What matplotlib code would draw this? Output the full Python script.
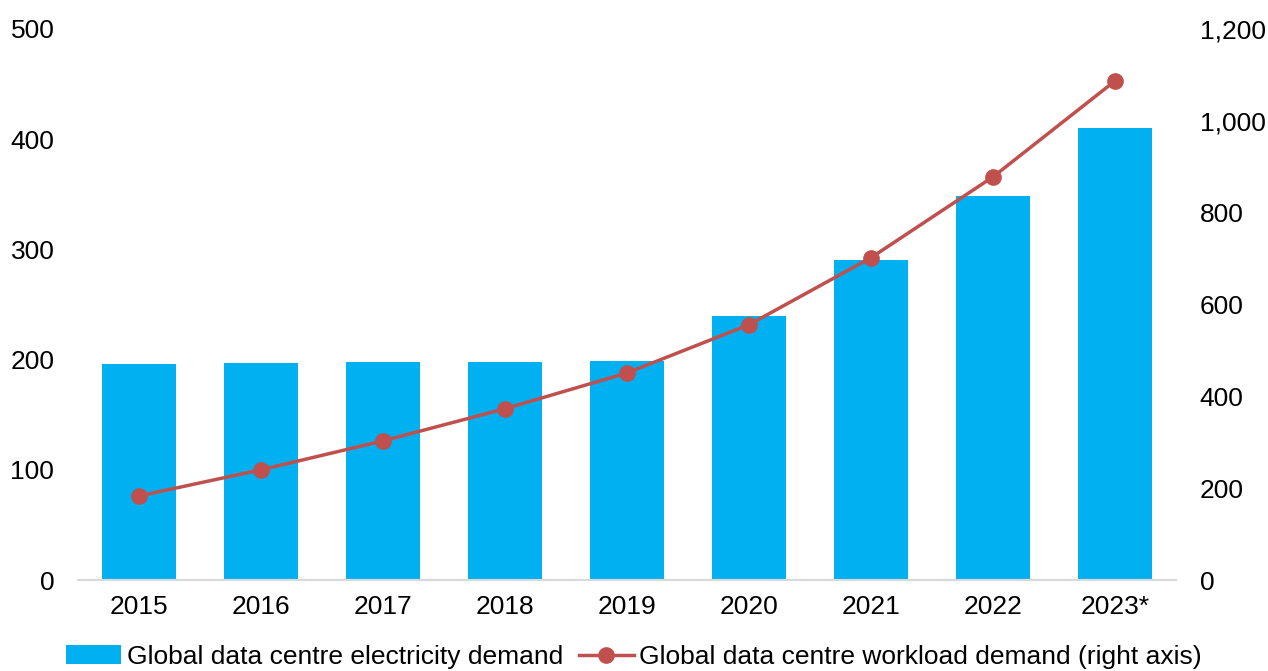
import matplotlib
matplotlib.use("Agg")
import matplotlib.pyplot as plt
from matplotlib.ticker import FuncFormatter

years = ["2015", "2016", "2017", "2018", "2019", "2020", "2021", "2022", "2023*"]
electricity_demand = [196, 197, 198, 198, 199, 240, 290, 348, 410]
workload_demand = [183, 240, 303, 373, 451, 556, 702, 878, 1087]

bar_color = "#00B0F0"
line_color = "#C0504D"

plt.rcParams["font.family"] = ["Liberation Sans", "DejaVu Sans"]
plt.rcParams["font.size"] = 19


def main():
    fig = plt.figure(figsize=(12.68, 6.71), dpi=100)
    ax = fig.add_axes([0.0615, 0.1356, 0.866, 0.8212])
    ax2 = ax.twinx()

    x = range(len(years))
    bars = ax.bar(x, electricity_demand, width=0.6, color=bar_color,
                  label="Global data centre electricity demand", zorder=2)
    line, = ax2.plot(x, workload_demand, color=line_color, linewidth=2.5,
                     marker="o", markersize=11, zorder=3,
                     label="Global data centre workload demand (right axis)")

    ax.set_xlim(-0.5, len(years) - 0.5)
    ax.set_ylim(0, 500)
    ax2.set_ylim(0, 1200)
    ax.set_yticks([0, 100, 200, 300, 400, 500])
    ax2.set_yticks([0, 200, 400, 600, 800, 1000, 1200])
    ax2.yaxis.set_major_formatter(FuncFormatter(lambda v, p: f"{int(v):,}"))
    ax.set_xticks(list(x))
    ax.set_xticklabels(years)

    for a in (ax, ax2):
        for side in ("top", "left", "right", "bottom"):
            a.spines[side].set_visible(False)
    ax.spines["bottom"].set_visible(True)
    ax.spines["bottom"].set_color("#D9D9D9")
    ax.spines["bottom"].set_linewidth(1.5)

    ax.tick_params(axis="x", length=0, pad=11)
    ax.tick_params(axis="y", length=0, pad=17)
    ax2.tick_params(axis="y", length=0, pad=17)

    fig.legend([bars, line],
               ["Global data centre electricity demand",
                "Global data centre workload demand (right axis)"],
               loc="center", bbox_to_anchor=(0.5, 0.021), ncol=2,
               frameon=False, handlelength=2.1, handletextpad=0.2,
               columnspacing=0.6, fontsize=19)

    fig.savefig("out.png", dpi=100)
    plt.close(fig)


if __name__ == "__main__":
    main()
